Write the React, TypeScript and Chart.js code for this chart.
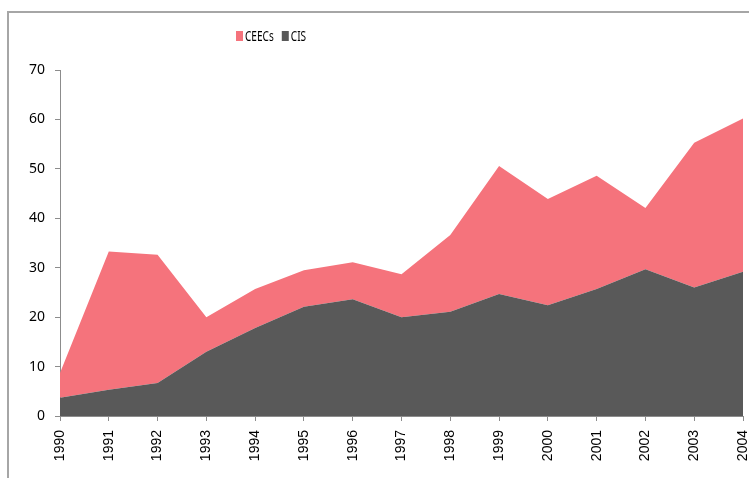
import React, { useEffect, useRef } from "react";
import { Chart, registerables } from "chart.js";

Chart.register(...registerables);

const years = ["1990","1991","1992","1993","1994","1995","1996","1997","1998","1999","2000","2001","2002","2003","2004"];
const cisValues = [3.7, 5.3, 6.7, 13.0, 17.8, 22.1, 23.6, 20.0, 21.1, 24.7, 22.4, 25.7, 29.7, 26.0, 29.2];
const ceecsValues = [5.0, 28.0, 25.9, 7.0, 7.9, 7.4, 7.5, 8.7, 15.5, 25.9, 21.5, 22.9, 12.4, 29.3, 31.0];
const yTicks = [0, 10, 20, 30, 40, 50, 60, 70];

const PINK = "#F5737C";
const GREY = "#595959";
const AXIS = "#8C8C8C";

const framePlugin = {
  id: "frameAndLegend",
  beforeDraw(chart: any) {
    const ctx = chart.ctx;
    ctx.save();
    ctx.strokeStyle = "#A6A6A6";
    ctx.lineWidth = 2;
    ctx.beginPath();
    ctx.moveTo(8, chart.height);
    ctx.lineTo(8, 12);
    ctx.lineTo(chart.width, 12);
    ctx.stroke();
    ctx.restore();
  },
  afterDraw(chart: any) {
    const ctx = chart.ctx;
    ctx.save();
    ctx.font = "14px 'Noto Sans', sans-serif";
    ctx.textBaseline = "middle";
    const items = [chart.data.datasets[1], chart.data.datasets[0]];
    const sx = 0.72;
    let x = 236;
    const y = 36;
    items.forEach((ds: any) => {
      ctx.fillStyle = ds.backgroundColor;
      ctx.fillRect(x, y - 5, 7, 10);
      x += 9;
      ctx.fillStyle = "#000";
      ctx.save();
      ctx.translate(x, y + 1);
      ctx.scale(sx, 1);
      ctx.fillText(ds.label, 0, 0);
      ctx.restore();
      x += ctx.measureText(ds.label).width * sx + 8;
    });
    ctx.restore();
  },
};

export default function App() {
  const ref = useRef<HTMLCanvasElement | null>(null);
  useEffect(() => {
    if (!ref.current) return;
    const chart = new Chart(ref.current, {
      type: "line",
      data: {
        labels: years,
        datasets: [
          {
            label: "CIS",
            data: cisValues,
            backgroundColor: GREY,
            borderColor: GREY,
            borderWidth: 0,
            pointRadius: 0,
            fill: "origin",
            tension: 0,
          },
          {
            label: "CEECs",
            data: ceecsValues,
            backgroundColor: PINK,
            borderColor: PINK,
            borderWidth: 0,
            pointRadius: 0,
            fill: "-1",
            tension: 0,
          },
        ],
      },
      options: {
        animation: false,
        responsive: false,
        layout: { padding: { left: 0, right: 6, top: 70, bottom: 0 } },
        plugins: {
          legend: { display: false },
          tooltip: { enabled: false },
        },
        scales: {
          x: {
            stacked: true,
            offset: false,
            grid: { display: true, drawOnChartArea: false, drawTicks: true, tickLength: 5, color: AXIS },
            border: { display: true, color: AXIS, width: 1 },
            ticks: {
              autoSkip: false,
              minRotation: 90,
              maxRotation: 90,
              color: "#000",
              padding: 9,
              font: { family: "'Liberation Sans', Arial, sans-serif", size: 14 },
            },
            afterFit(scale: any) {
              scale.height = 62;
              scale.paddingLeft = 0;
              scale.paddingRight = 0;
            },
          },
          y: {
            stacked: true,
            min: 0,
            max: 70,
            afterBuildTicks(scale: any) {
              scale.ticks = yTicks.map((v) => ({ value: v }));
            },
            grid: { display: true, drawOnChartArea: false, drawTicks: true, tickLength: 5, color: AXIS },
            border: { display: true, color: AXIS, width: 1 },
            ticks: {
              color: "#000",
              padding: 10,
              font: { family: "'Noto Sans', sans-serif", size: 14 },
            },
            afterFit(scale: any) {
              scale.width = 60;
            },
          },
        },
      },
      plugins: [framePlugin],
    });
    return () => chart.destroy();
  }, []);
  return (
    <div style={{ position: "fixed", left: 0, top: 0, width: 749, height: 478, background: "#fff" }}>
      <canvas ref={ref} width={749} height={478} style={{ display: "block" }} />
    </div>
  );
}
